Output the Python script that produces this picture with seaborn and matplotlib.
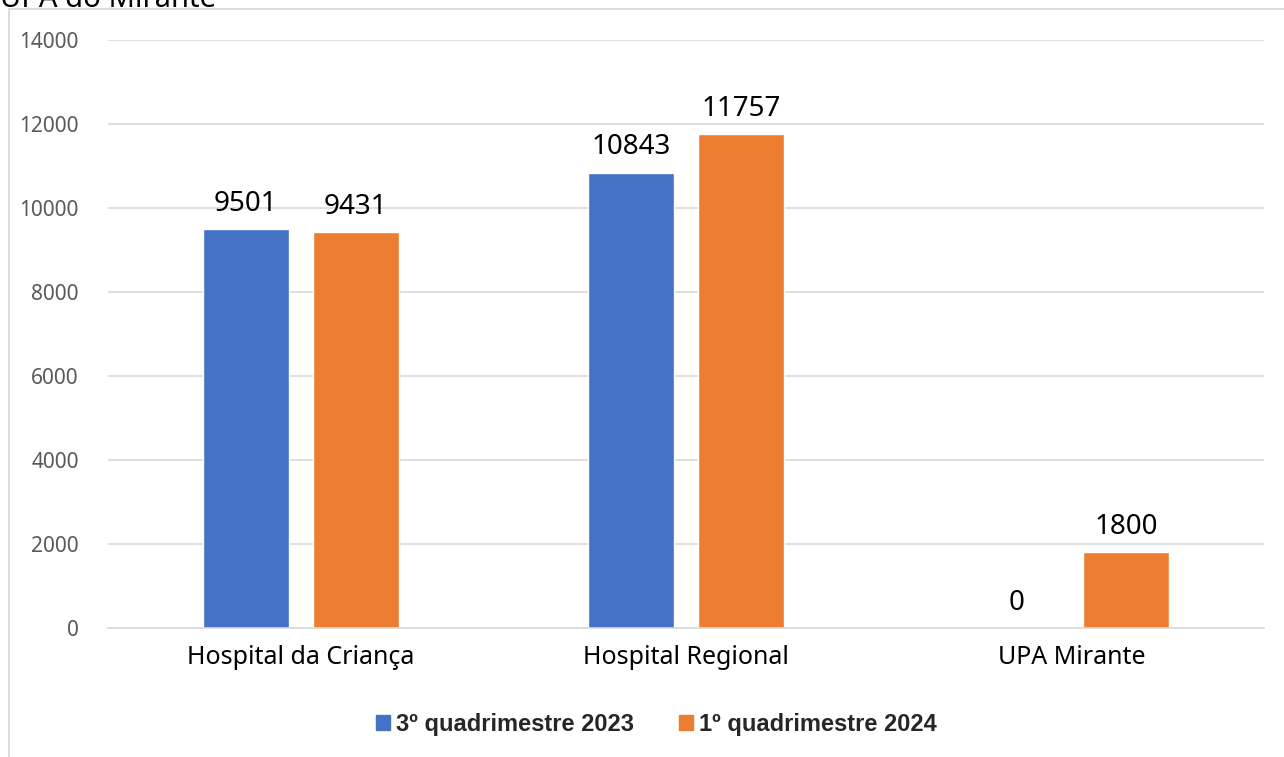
import pandas as pd
import matplotlib.pyplot as plt
import matplotlib.patches as mpatches
import seaborn as sns

# data
categories = ['Hospital da Criança', 'Hospital Regional', 'UPA Mirante']
series_names = ['3º quadrimestre 2023', '1º quadrimestre 2024']
q3_2023 = [9501, 10843, 0]
q1_2024 = [9431, 11757, 1800]
yticks = [0, 2000, 4000, 6000, 8000, 10000, 12000, 14000]

colors = ['#4472C4', '#ED7D31']

df = pd.DataFrame({
    'unidade': categories * 2,
    'periodo': [series_names[0]] * 3 + [series_names[1]] * 3,
    'valor': q3_2023 + q1_2024,
})

sns.set_theme(style='white')
plt.rcParams['font.family'] = ['Noto Sans', 'DejaVu Sans']

fig = plt.figure(figsize=(12.84, 7.57), dpi=100)
ax = fig.add_axes([108 / 1284, 1 - 628 / 757, (1264 - 108) / 1284, (628 - 40) / 757])

sns.barplot(data=df, x='unidade', y='valor', hue='periodo', palette=colors,
            width=0.571, gap=0.22, ax=ax, legend=False, saturation=1)

ax.set_ylim(0, 14000)
ax.set_yticks(yticks)
ax.set_xlim(-0.5, 2.5)
ax.yaxis.grid(True, color='#D9D9D9', linewidth=1.2)
ax.set_axisbelow(True)
for side in ['top', 'right', 'left']:
    ax.spines[side].set_visible(False)
ax.spines['bottom'].set_color('#D9D9D9')
ax.spines['bottom'].set_linewidth(1.2)
ax.set_xlabel('')
ax.set_ylabel('')
ax.tick_params(axis='y', labelsize=15, colors='#595959', length=0, pad=21)
ax.tick_params(axis='x', labelsize=18, colors='#000000', length=0, pad=12)

for cont in ax.containers:
    ax.bar_label(cont, fontsize=20, padding=8, color='#000000')

# legend
handles = [mpatches.Patch(color=c, label=n) for c, n in zip(colors, series_names)]
fig.legend(handles=handles, loc='center', bbox_to_anchor=(656 / 1284, 1 - 724 / 757),
           ncol=2, frameon=False, handlelength=0.6, handleheight=0.6,
           handletextpad=0.25, columnspacing=1.9,
           prop={'family': 'Liberation Sans', 'weight': 'bold', 'size': 17})

# outer chart-area border, only left/top edges visible
fig.patches.append(mpatches.Rectangle((9 / 1284, -0.1), 1.2, 1 - 9 / 757 + 0.1,
                                      transform=fig.transFigure, fill=False,
                                      edgecolor='#D9D9D9', linewidth=1.3))

# title text cut off at the top of the image
fig.text(0.0, 1 - 7 / 757, 'UPA do Mirante', fontsize=21, color='#000000',
         ha='left', va='baseline')

fig.savefig('out.png', dpi=100)
